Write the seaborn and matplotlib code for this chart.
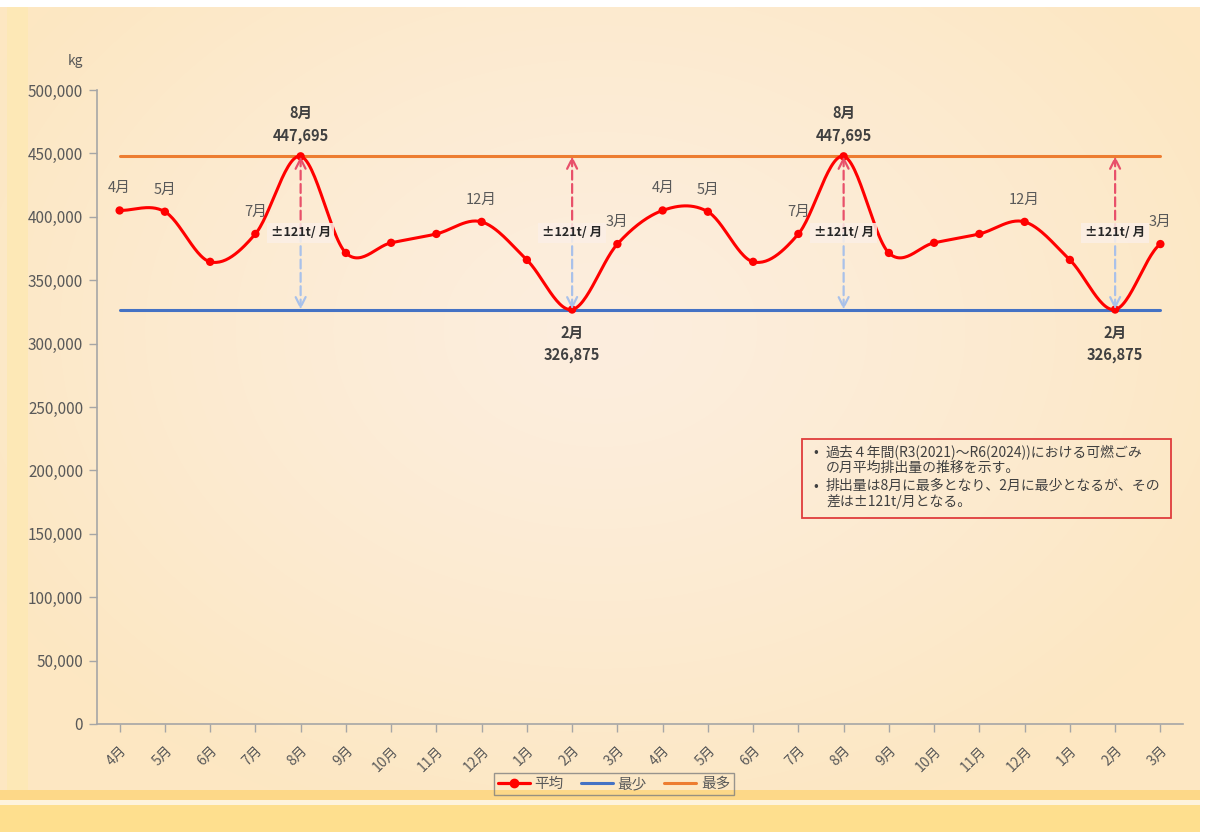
import numpy as np
import pandas as pd
import matplotlib.pyplot as plt
import seaborn as sns
from matplotlib.lines import Line2D
from matplotlib.patches import Rectangle

# 月平均排出量 (kg) R3~R6 の平均、2年分を並べて表示
months = ['4月', '5月', '6月', '7月', '8月', '9月', '10月', '11月', '12月', '1月', '2月', '3月']
avg_year = [405000, 404000, 364500, 386500, 447695, 371500, 379500, 386500, 396000, 366000, 326875, 378500]
labels = months * 2
avg = avg_year * 2
min_val = 326875
max_val = 447695
yticks = list(range(0, 500001, 50000))
point_labels = ['4月', '5月', '7月', '12月', '3月']

sns.set_theme(style='white')
plt.rcParams['font.family'] = ['Noto Sans CJK JP', 'DejaVu Sans']

W, H = 1207, 832
fig = plt.figure(figsize=(W / 100, H / 100), dpi=100)

# 背景のグラデーション
yy, xx = np.mgrid[0:H, 0:W]
r = np.sqrt(((xx - 600) / 700) ** 2 + ((yy - 330) / 520) ** 2).clip(0, 1)
center = np.array([252, 238, 222]) / 255
edge = np.array([253, 231, 194]) / 255
img = center + (edge - center) * (r[..., None] ** 1.3)
img[:, 7:28] = np.array([253, 232, 182]) / 255
img[790:800, :] = np.array([253, 216, 136]) / 255
img[800:805, :] = np.array([254, 243, 220]) / 255
img[805:, :] = np.array([254, 223, 142]) / 255
img[:7, :] = 1.0
img[:, 1200:] = 1.0
bg = fig.add_axes([0, 0, 1, 1], zorder=-5)
bg.imshow(img, extent=[0, W, H, 0], aspect='auto')
bg.axis('off')

ax = fig.add_axes([97 / W, 1 - 724 / H, (1183 - 97) / W, (724 - 90) / H])
ax.set_facecolor('none')

# Excel風のなめらかな線 (Catmull-Rom)
x = np.arange(len(avg))
y = np.array(avg, dtype=float)
xs, ys = [], []
for i in range(len(x) - 1):
    p0 = y[max(i - 1, 0)]
    p1, p2 = y[i], y[i + 1]
    p3 = y[min(i + 2, len(y) - 1)]
    t = np.linspace(0, 1, 30)
    seg = 0.5 * (2 * p1 + (-p0 + p2) * t + (2 * p0 - 5 * p1 + 4 * p2 - p3) * t ** 2
                 + (-p0 + 3 * p1 - 3 * p2 + p3) * t ** 3)
    xs.extend(x[i] + t)
    ys.extend(seg)
df_line = pd.DataFrame({'x': xs, 'y': ys})
df_pts = pd.DataFrame({'x': x, 'y': y})

ax.plot([0, len(x) - 1], [min_val, min_val], color='#4472c4', lw=2.2, zorder=2)
ax.plot([0, len(x) - 1], [max_val, max_val], color='#ed7d31', lw=2.2, zorder=2)
sns.lineplot(data=df_line, x='x', y='y', color='#ff0000', lw=2.2, ax=ax, zorder=4, sort=False)
sns.scatterplot(data=df_pts, x='x', y='y', color='#ff0000', s=36, edgecolor='none', ax=ax, zorder=5)

ax.set_xlim(-0.5, len(x) - 0.5)
ax.set_ylim(0, 500000)
ax.set_yticks(yticks)
ax.set_yticklabels([f'{v:,}' for v in yticks], fontsize=11, color='#595959')
ax.set_xticks(x)
ax.set_xticklabels(labels, rotation=45, ha='right', rotation_mode='anchor', fontsize=10, color='#595959')
ax.tick_params(axis='both', left=True, bottom=True, length=6, width=1, color='#a6a6a6', direction='out')
ax.tick_params(axis='y', pad=4)
ax.tick_params(axis='x', pad=8)
ax.set_xlabel('')
ax.set_ylabel('')
for s in ['top', 'right']:
    ax.spines[s].set_visible(False)
for s in ['left', 'bottom']:
    ax.spines[s].set_color('#a6a6a6')
    ax.spines[s].set_linewidth(1.2)
ax.text(-0.013, 1.045, 'kg', transform=ax.transAxes, ha='right', va='center', fontsize=10, color='#595959')

# データラベル
for i, lab in enumerate(labels):
    if lab in point_labels:
        ax.annotate(lab, (i, avg[i]), xytext=(0, 16), textcoords='offset points',
                    ha='center', va='center', fontsize=10.5, color='#595959')
mid = (max_val + min_val) / 2
for i, lab in enumerate(labels):
    if avg[i] == max_val:
        ax.annotate(lab, (i, max_val), xytext=(0, 31), textcoords='offset points',
                    ha='center', va='center', fontsize=10.5, fontweight='bold', color='#404040')
        ax.annotate(f'{max_val:,}', (i, max_val), xytext=(0, 14.5), textcoords='offset points',
                    ha='center', va='center', fontsize=10.5, fontweight='bold', color='#404040')
    if avg[i] == min_val:
        ax.annotate(lab, (i, min_val), xytext=(0, -16.5), textcoords='offset points',
                    ha='center', va='center', fontsize=10.5, fontweight='bold', color='#404040')
        ax.annotate(f'{min_val:,}', (i, min_val), xytext=(0, -33), textcoords='offset points',
                    ha='center', va='center', fontsize=10.5, fontweight='bold', color='#404040')
    if avg[i] in (max_val, min_val):
        ax.annotate('', xy=(i, max_val), xytext=(i, mid),
                    arrowprops=dict(arrowstyle='->', color='#e8506a', lw=1.6, linestyle=(0, (4, 2)),
                                    mutation_scale=18, shrinkA=0, shrinkB=0), zorder=6)
        ax.annotate('', xy=(i, min_val), xytext=(i, mid),
                    arrowprops=dict(arrowstyle='->', color='#a9c1ea', lw=1.6, linestyle=(0, (4, 2)),
                                    mutation_scale=18, shrinkA=0, shrinkB=0), zorder=6)
        ax.text(i, mid, '±121t/ 月', ha='center', va='center', fontsize=9, fontweight='bold',
                color='#262626', zorder=7,
                bbox=dict(boxstyle='square,pad=0.3', fc='#fbefe6', ec='none', alpha=0.85))

# 説明ボックス
fig.patches.append(Rectangle((802 / W, 1 - 518 / H), (1171 - 802) / W, (518 - 439) / H,
                             transform=fig.transFigure, fill=False, ec='#e03c3c', lw=1.3))
notes = [('•', '過去４年間(R3(2021)～R6(2024))における可燃ごみ', 452),
         ('', 'の月平均排出量の推移を示す。', 468),
         ('•', '排出量は8月に最多となり、2月に最少となるが、その', 486),
         ('', '差は±121t/月となる。', 502)]
for b, t, py in notes:
    if b:
        fig.text(813 / W, 1 - py / H, b, ha='left', va='center', fontsize=10, color='#404040')
    fig.text(826 / W, 1 - py / H, t, ha='left', va='center', fontsize=10, color='#404040')

handles = [Line2D([], [], color='#ff0000', lw=2.3, marker='o', markersize=6),
           Line2D([], [], color='#4472c4', lw=2.2),
           Line2D([], [], color='#ed7d31', lw=2.2)]
leg = fig.legend(handles, ['平均', '最少', '最多'], loc='center', bbox_to_anchor=(614 / W, 1 - 784 / H),
                 ncol=3, fontsize=10.5, frameon=True, fancybox=False, handlelength=2.2,
                 columnspacing=1.2, handletextpad=0.3, borderpad=0.3)
leg.get_frame().set_edgecolor('#7f7f7f')
leg.get_frame().set_facecolor('none')
for t in leg.get_texts():
    t.set_color('#595959')

fig.savefig('out.png', dpi=100)
